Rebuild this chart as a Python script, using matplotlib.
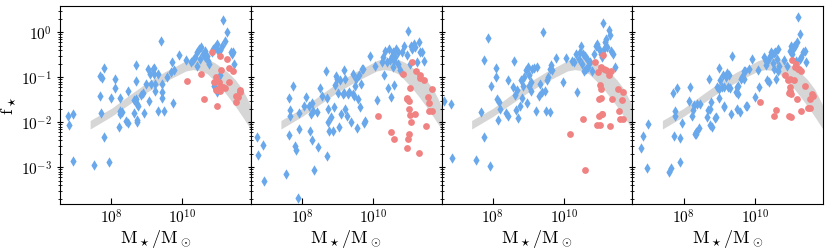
import matplotlib
matplotlib.use("Agg")
import matplotlib.pyplot as plt
import numpy as np
from matplotlib.ticker import FuncFormatter, LogLocator, NullLocator

plt.rcParams["mathtext.fontset"] = "cm"
plt.rcParams["font.family"] = ["DejaVu Serif"]

# log10 stellar mass / log10 f_star
p1_blue_logm = [6.78, 6.81, 6.93, 6.93, 7.52, 7.68, 7.68, 7.74, 7.79, 7.70, 7.79, 7.94, 7.99, 8.09, 8.09,
                8.20, 8.23, 8.25, 8.25, 8.29, 8.40, 8.46, 8.47, 8.63, 8.63, 8.68, 8.70, 8.70, 8.72, 8.71,
                8.73, 8.74, 8.88, 8.91, 8.83, 8.98, 9.04, 9.07, 9.10, 9.13, 9.17, 9.21, 9.20, 9.23, 9.23,
                9.30, 9.32, 9.39, 9.44, 9.44, 9.44, 9.49, 9.58, 9.67, 9.72, 9.75, 9.77, 9.92, 10.10, 10.25,
                10.31, 10.37, 10.40, 10.42, 10.48, 10.51, 10.54, 10.57, 10.63, 10.65, 10.70, 10.72, 10.75,
                10.84, 10.87, 10.93, 10.98, 11.00, 11.07, 11.12, 11.15, 11.19, 11.26, 11.36, 11.40, 11.42,
                10.98, 11.45, 11.07, 10.89]
p1_blue_logf = [-1.87, -2.07, -1.82, -2.85, -2.94, -1.42, -0.98, -1.01, -0.79, -1.80, -2.33, -2.89, -1.47,
                -1.04, -1.23, -2.10, -1.82, -1.47, -1.74, -1.78, -1.97, -2.01, -1.30, -1.50, -1.79, -1.08,
                -0.73, -1.48, -1.59, -1.95, -1.99, -1.63, -1.36, -1.79, -1.39, -1.16, -0.81, -1.53, -0.93,
                -1.16, -0.81, -0.79, -0.92, -1.15, -1.31, -1.76, -0.92, -0.20, -1.15, -1.32, -1.47, -1.76,
                -0.99, -0.89, -0.65, -1.57, -0.83, -0.50, -0.62, -0.65, -0.61, -0.56, -0.44, -0.74, -0.37,
                -0.59, -0.33, -0.49, -0.41, -0.56, -0.52, -0.63, -0.70, -0.44, -0.37, -0.32, -0.26, -0.41,
                -0.39, -0.30, 0.28, -0.19, 0.01, -0.43, -0.48, -0.43, -1.33, -0.70, -0.96, -1.19]
p1_red_logm = [10.85, 11.05, 11.25, 11.09, 11.31, 11.44, 10.14, 10.52, 10.61, 10.96, 11.03, 11.00, 11.07,
               11.15, 11.31, 11.19, 10.96, 11.07, 10.98, 11.50, 11.56, 11.62, 11.64, 11.50, 10.89]
p1_red_logf = [-0.43, -0.52, -0.59, -0.83, -0.80, -0.87, -1.08, -0.92, -1.49, -0.99, -1.10, -1.26, -1.20,
               -1.22, -1.10, -1.24, -1.28, -1.30, -1.64, -1.56, -1.44, -1.33, -1.29, -1.42, -1.10]

p2_blue_logm = [6.73, 6.74, 6.89, 6.92, 7.55, 7.63, 7.65, 7.63, 7.67, 7.74, 7.81, 7.83, 7.89, 7.90, 7.90,
                8.05, 8.10, 8.20, 8.23, 8.24, 8.27, 8.28, 8.30, 8.34, 8.43, 8.44, 8.51, 8.55, 8.68, 8.69,
                8.70, 8.72, 8.73, 8.76, 8.82, 8.86, 8.90, 8.92, 8.95, 8.97, 9.01, 9.05, 9.06, 9.09, 9.14,
                9.18, 9.19, 9.21, 9.22, 9.26, 9.29, 9.33, 9.38, 9.42, 9.43, 9.47, 9.49, 9.52, 9.55, 9.57,
                9.59, 9.62, 9.66, 9.68, 9.71, 9.73, 9.77, 9.90, 10.05, 10.10, 10.24, 10.29, 10.31, 10.35,
                10.38, 10.43, 10.45, 10.48, 10.50, 10.52, 10.55, 10.57, 10.59, 10.60, 10.62, 10.65, 10.69,
                10.71, 10.76, 10.81, 10.86, 10.95, 10.98, 11.03, 11.07, 11.10, 11.14, 11.19, 11.24, 11.29,
                11.33, 11.38, 11.43]
p2_blue_logf = [-2.33, -2.73, -2.50, -3.31, -3.15, -1.46, -1.73, -2.28, -1.87, -1.20, -2.52, -2.61, -3.69,
                -2.15, -1.79, -1.64, -1.44, -1.63, -2.19, -1.81, -2.39, -1.57, -1.74, -3.06, -1.78, -2.54,
                -1.23, -1.41, -0.85, -2.74, -1.45, -2.00, -1.70, -2.20, -1.89, -2.20, -1.65, -1.17, -0.98,
                -1.04, -1.35, -2.11, -1.07, -1.81, -1.37, -1.36, -0.84, -1.70, -1.04, -1.87, -1.37, -1.33,
                -2.00, -0.93, -1.37, -1.41, -1.19, -1.04, -2.13, -1.48, -0.94, -1.67, -1.16, -0.81, -0.81,
                -2.01, -1.97, -0.53, -0.74, -1.50, -0.65, -0.56, -0.96, -0.41, -0.67, -1.24, -0.37, -0.61,
                -1.44, -0.52, -0.78, -0.44, -0.63, -1.17, -0.56, -0.37, -0.70, -0.44, -0.83, -0.44, -0.31,
                -0.50, 0.03, -0.70, -0.30, -0.37, -0.26, -0.33, -0.67, -0.22, -0.43, -0.44, -0.63]
p2_red_logm = [10.13, 10.50, 10.59, 10.84, 10.95, 10.97, 11.00, 11.02, 11.03, 11.05, 11.07, 10.99, 10.97,
               11.01, 11.10, 11.19, 11.22, 11.30, 11.31, 11.33, 11.43, 11.50, 11.54, 11.57, 11.58, 11.65,
               11.66]
p2_red_logf = [-1.86, -2.22, -2.37, -0.93, -1.47, -1.48, -1.70, -1.52, -1.83, -1.24, -1.99, -2.37, -2.57,
               -2.27, -0.67, -1.81, -0.87, -2.69, -1.01, -0.96, -1.05, -2.09, -1.43, -1.57, -1.74, -1.76,
               -1.27]

p3_blue_logm = [6.63, 6.82, 6.85, 7.51, 7.66, 7.75, 7.75, 7.87, 7.91, 7.95, 8.08, 8.08, 8.11, 8.14, 8.18,
                8.21, 8.38, 8.42, 8.43, 8.58, 8.59, 8.61, 8.64, 8.69, 8.71, 8.75, 8.80, 8.83, 8.85, 8.89,
                8.92, 8.96, 8.98, 9.01, 9.02, 9.06, 9.08, 9.10, 9.15, 9.21, 9.23, 9.29, 9.34, 9.38, 9.42,
                9.48, 9.50, 9.53, 9.55, 9.60, 9.62, 9.64, 9.68, 9.77, 9.97, 10.07, 10.24, 10.30, 10.34,
                10.38, 10.42, 10.45, 10.49, 10.52, 10.55, 10.57, 10.59, 10.62, 10.66, 10.69, 10.74, 10.79,
                10.85, 10.90, 10.94, 10.99, 11.04, 11.08, 11.11, 11.15, 11.20, 11.23, 11.26, 11.29, 11.34,
                11.40, 11.43, 11.13]
p3_blue_logf = [-1.52, -1.59, -2.79, -2.84, -1.78, -2.33, -0.62, -0.13, -2.98, -1.19, -0.79, -0.99, -1.48,
                -1.94, -1.54, -1.70, -1.80, -1.87, -1.07, -1.21, -0.63, -1.39, -1.73, -1.28, -1.90, -1.64,
                -1.06, -1.46, -1.19, -1.00, -0.84, -1.58, -0.78, -0.95, -1.19, -1.30, -1.10, -0.81, -0.80,
                -1.74, -0.78, -1.41, -1.15, -1.33, 0.00, -1.30, -1.74, -1.05, -1.00, -0.81, -1.78, -0.73,
                -0.83, -0.57, -1.10, -0.58, -0.64, -0.65, -0.48, -1.32, -0.59, -0.44, -0.30, -0.70, -0.48,
                -0.85, -0.52, -0.81, -0.59, -0.78, -0.67, -0.85, -0.48, -0.30, -0.26, -0.37, -0.48, -0.56,
                0.20, -0.22, -0.15, -0.33, 0.04, -0.07, -0.42, -0.48, -0.78, -0.37]
p3_red_logm = [10.16, 10.54, 10.61, 10.87, 10.96, 10.99, 11.01, 11.02, 11.04, 11.06, 11.08, 11.10, 11.13,
               11.20, 11.27, 11.30, 11.32, 11.37, 11.54, 11.56, 11.57, 11.66, 11.64, 11.66, 11.04, 11.09,
               10.99, 10.94]
p3_red_logf = [-2.25, -1.93, -3.07, -0.65, -0.89, -1.48, -2.06, -1.17, -1.26, -0.78, -1.81, -0.50, -0.81,
               -0.84, -0.96, -2.09, -0.87, -1.48, -1.27, -1.74, -1.93, -1.33, -1.50, -1.93, -1.47, -1.81,
               -1.85, -2.06]

p4_blue_logm = [6.80, 6.85, 6.97, 6.99, 7.59, 7.64, 7.70, 7.72, 7.76, 7.75, 7.81, 7.89, 7.91, 7.96, 8.14,
                8.18, 8.23, 8.26, 8.30, 8.32, 8.34, 8.36, 8.38, 8.43, 8.45, 8.66, 8.69, 8.72, 8.73, 8.75,
                8.77, 8.80, 8.89, 8.92, 8.94, 8.99, 9.00, 9.00, 9.03, 9.08, 9.10, 9.13, 9.15, 9.15, 9.18,
                9.22, 9.25, 9.28, 9.31, 9.33, 9.36, 9.47, 9.49, 9.50, 9.52, 9.54, 9.60, 9.62, 9.65, 9.69,
                9.71, 9.74, 9.77, 9.79, 9.83, 9.93, 10.00, 10.09, 10.12, 10.27, 10.31, 10.33, 10.35, 10.38,
                10.41, 10.44, 10.46, 10.49, 10.52, 10.54, 10.55, 10.58, 10.61, 10.63, 10.65, 10.67, 10.70,
                10.82, 10.91, 10.99, 11.02, 11.05, 11.08, 11.10, 11.13, 11.16, 11.19, 11.23, 11.27, 11.29,
                11.31, 11.36, 11.42, 11.44]
p4_blue_logf = [-2.58, -2.30, -3.01, -2.03, -3.11, -3.02, -1.36, -2.30, -1.85, -1.76, -1.24, -2.36, -2.89,
                -2.01, -1.53, -1.22, -1.87, -1.73, -1.61, -2.27, -2.22, -2.26, -1.59, -2.13, -1.59, -1.89,
                -1.72, -1.04, -2.07, -1.70, -1.56, -2.10, -1.90, -1.89, -1.21, -0.79, -1.47, -1.26, -1.07,
                -1.22, -0.96, -1.22, -1.67, -1.63, -1.00, -0.91, -1.22, -0.96, -1.24, -1.81, -0.52, -1.33,
                -1.70, -1.22, -1.37, -1.19, -1.78, -1.04, -1.00, -1.04, -0.85, -0.85, -1.64, -1.63, -0.81,
                -0.59, -1.43, -0.83, -1.22, -0.56, -0.63, -0.73, -1.07, -0.61, -1.10, -0.52, -0.44, -0.48,
                -0.68, -0.81, -0.46, -0.44, -1.04, -0.59, -0.37, -0.85, -0.74, -0.61, -0.74, -0.41, -0.30,
                -0.48, -0.37, -0.31, -0.30, -0.63, -0.22, 0.35, -0.04, -0.59, -0.56, -0.44, -0.41, -0.67]
p4_red_logm = [10.14, 10.54, 10.60, 10.85, 10.94, 10.96, 10.97, 10.99, 11.00, 11.02, 11.04, 11.06, 11.10,
               11.13, 11.17, 11.19, 11.23, 11.26, 11.31, 11.32, 11.43, 11.52, 11.55, 11.57, 11.62, 11.64,
               11.00]
p4_red_logf = [-1.56, -1.87, -1.72, -0.94, -1.07, -1.85, -1.35, -1.30, -1.04, -1.89, -1.37, -0.61, -1.07,
               -0.78, -0.70, -1.48, -0.81, -0.81, -1.74, -0.85, -1.20, -1.69, -1.48, -1.69, -1.37, -1.41,
               -1.22]

# grey reference band (log10 values)
band_logm = [7.4, 8.0, 8.5, 9.0, 9.5, 9.8, 10.1, 10.3, 10.5, 10.7, 10.9, 11.1, 11.3, 11.5, 11.7, 11.95]
band_upper = [-1.96, -1.69, -1.40, -1.12, -0.88, -0.76, -0.63, -0.58, -0.57, -0.60, -0.67, -0.78, -0.90,
              -1.06, -1.27, -1.67]
band_lower = [-2.15, -1.87, -1.60, -1.33, -1.10, -0.98, -0.86, -0.83, -0.85, -0.92, -1.07, -1.24, -1.44,
              -1.65, -1.88, -2.18]

panels = [
    (p1_blue_logm, p1_blue_logf, p1_red_logm, p1_red_logf),
    (p2_blue_logm, p2_blue_logf, p2_red_logm, p2_red_logf),
    (p3_blue_logm, p3_blue_logf, p3_red_logm, p3_red_logf),
    (p4_blue_logm, p4_blue_logf, p4_red_logm, p4_red_logf),
]

fig, axes = plt.subplots(1, 4, sharey=True, figsize=(8.3, 2.53), dpi=100)
fig.subplots_adjust(left=0.0723, right=0.9916, bottom=0.191, top=0.9735, wspace=0)

pow_fmt = FuncFormatter(lambda v, pos: r"$10^{%d}$" % round(np.log10(v)))

for i, ax in enumerate(axes):
    bx, by, rx, ry = panels[i]
    ax.fill_between(10 ** np.array(band_logm), 10 ** np.array(band_lower), 10 ** np.array(band_upper),
                    color="#d6d6d6", lw=0, zorder=1)
    ax.scatter(10 ** np.array(bx), 10 ** np.array(by), marker="d", s=28, color="#6aa8ec", lw=0, zorder=2)
    ax.scatter(10 ** np.array(rx), 10 ** np.array(ry), marker="o", s=24, color="#f08282", lw=0, zorder=3)

    ax.set_xscale("log")
    ax.set_yscale("log")
    ax.set_xlim(10 ** 6.55, 10 ** 11.93)
    ax.set_ylim(1.55e-4, 3.9)
    ax.set_xticks([1e8, 1e10])
    ax.xaxis.set_minor_locator(NullLocator())
    ax.xaxis.set_major_formatter(pow_fmt)
    ax.yaxis.set_major_locator(LogLocator(base=10, numticks=10))
    ax.yaxis.set_minor_locator(LogLocator(base=10, subs=np.arange(2, 10), numticks=10))
    ax.yaxis.set_major_formatter(pow_fmt)
    ax.tick_params(axis="x", which="major", direction="in", length=4, labelsize=11, pad=3)
    ax.tick_params(axis="y", which="major", direction="inout", length=5, labelsize=11)
    ax.tick_params(axis="y", which="minor", direction="inout", length=2.5)
    ax.set_xlabel(r"$\mathrm{M_\star/M_\odot}$", fontsize=13, labelpad=1)
    if i > 0:
        ax.tick_params(axis="y", labelleft=False)

axes[0].set_ylabel(r"$\mathrm{f_\star}$", fontsize=13, labelpad=2)

fig.savefig("out.png", dpi=100)
